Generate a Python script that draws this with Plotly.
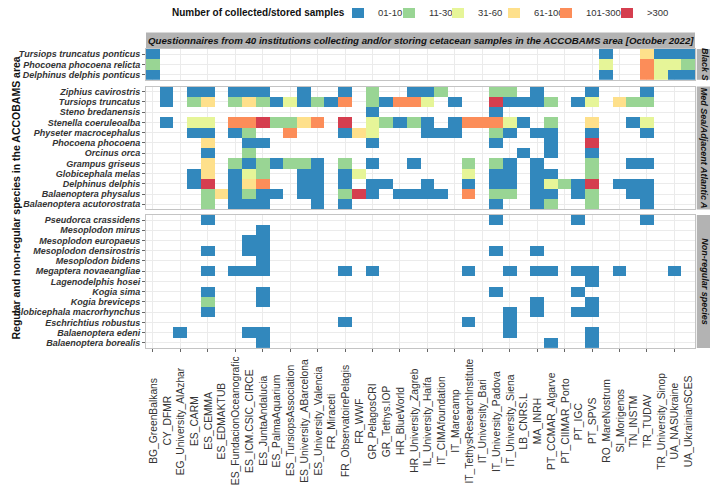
import plotly.graph_objects as go
from plotly.subplots import make_subplots

# ---------------- data ----------------
institutions = [
    "BG_GreenBalkans", "CY_DFMR", "EG_University_AlAzhar", "ES_CARM", "ES_CEMMA",
    "ES_EDMAKTUB", "ES_FundacionOceanografic", "ES_ICM.CSIC_CIRCE", "ES_JuntaAndalucia",
    "ES_PalmaAquarium", "ES_TursiopsAssociation", "ES_University_ABarcelona",
    "ES_University_Valencia", "FR_Miraceti", "FR_ObservatoirePelagis", "FR_WWF",
    "GR_PelagosCRI", "GR_Tethys.IOP", "HR_BlueWorld", "HR_University_Zagreb",
    "IL_University_Haifa", "IT_CIMAfoundation", "IT_Marecamp", "IT_TethysResearchInstitute",
    "IT_University_Bari", "IT_University_Padova", "IT_University_Siena", "LB_CNRS.L",
    "MA_INRH", "PT_CCMAR_Algarve", "PT_CIIMAR_Porto", "PT_IGC", "PT_SPVS",
    "RO_MareNostrum", "SI_Morigenos", "TN_INSTM", "TR_TUDAV", "TR_University_Sinop",
    "UA_NASUkraine", "UA_UkrainianSCES",
]

bins = ["01-10", "11-30", "31-60", "61-100", "101-300", ">300"]
bin_colors = ["#3288BD", "#99D594", "#E6F598", "#FEE08B", "#FC8D59", "#D53E4F"]

panel_labels = ["Black S", "Med Sea/Adjacent Atlantic A", "Non-regular species"]
strip_title = ("Questionnaires from 40 institutions collecting and/or storing "
               "cetacean samples in the ACCOBAMS area [October 2022]")
y_title = "Regular and non-regular species in the ACCOBAMS area"
legend_title = "Number of collected/stored samples"

species_black = ["Tursiops truncatus ponticus", "Phocoena phocoena relicta",
                 "Delphinus delphis ponticus"]
species_med = ["Ziphius cavirostris", "Tursiops truncatus", "Steno bredanensis",
               "Stenella coeruleoalba", "Physeter macrocephalus", "Phocoena phocoena",
               "Orcinus orca", "Grampus griseus", "Globicephala melas",
               "Delphinus delphis", "Balaenoptera physalus", "Balaenoptera acutorostrata"]
species_nonreg = ["Pseudorca crassidens", "Mesoplodon mirus", "Mesoplodon europaeus",
                  "Mesoplodon densirostris", "Mesoplodon bidens", "Megaptera novaeangliae",
                  "Lagenodelphis hosei", "Kogia sima", "Kogia breviceps",
                  "Globicephala macrorhynchus", "Eschrichtius robustus",
                  "Balaenoptera edeni", "Balaenoptera borealis"]

# sample-class code per institution (0 = none, 1..6 = index in bins + 1)
tursiops_ponticus = [1,0,0,0,0,0,0,0,0,0, 0,0,0,0,0,0,0,0,0,0, 0,0,0,0,0,0,0,0,0,0, 0,0,0,1,0,0,4,1,1,1]
phocoena_relicta  = [2,0,0,0,0,0,0,0,0,0, 0,0,0,0,0,0,0,0,0,0, 0,0,0,0,0,0,0,0,0,0, 0,0,0,3,0,0,5,3,3,2]
delphinus_ponticus = [1,0,0,0,0,0,0,0,0,0, 0,0,0,0,0,0,0,0,0,0, 0,0,0,0,0,0,0,0,0,0, 0,0,0,1,0,0,5,3,1,1]

ziphius_cavirostris = [0,1,0,1,1,0,1,1,1,0, 0,1,0,0,1,0,2,0,0,1, 1,2,0,0,0,2,2,0,1,0, 0,0,1,0,0,0,1,0,0,0]
tursiops_truncatus  = [0,1,0,2,4,0,2,4,2,1, 3,1,2,1,5,0,2,1,5,5, 3,0,1,0,0,6,1,1,1,2, 0,1,3,0,4,2,2,0,0,0]
steno_bredanensis   = [0,0,0,0,0,0,0,0,0,0, 0,0,0,0,0,0,1,0,0,0, 0,0,0,0,0,1,0,0,0,0, 0,0,0,0,0,0,0,0,0,0]
stenella_coeruleoalba = [0,1,0,3,3,0,5,5,6,2, 2,4,5,0,6,0,3,2,1,2, 1,0,1,5,5,5,3,1,0,2, 0,0,4,0,0,1,3,0,0,0]
physeter_macrocephalus = [0,0,0,1,1,0,1,2,0,0, 5,0,0,0,1,4,3,0,0,0, 1,1,1,0,0,2,1,0,1,1, 0,0,1,0,0,0,1,0,0,0]
phocoena_phocoena   = [0,0,0,0,4,0,0,1,1,0, 0,0,0,0,0,0,1,0,0,0, 0,0,0,0,0,1,0,0,0,1, 0,0,6,0,0,0,0,0,0,0]
orcinus_orca        = [0,0,0,0,1,0,0,2,0,0, 0,0,0,0,0,0,0,0,0,0, 0,0,0,0,0,0,0,1,0,1, 0,0,1,0,0,0,0,0,0,0]
grampus_griseus     = [0,0,0,0,4,0,2,1,2,1, 2,2,1,0,2,0,1,0,0,1, 0,0,0,2,0,2,1,0,1,0, 0,0,2,0,0,1,1,0,0,0]
globicephala_melas  = [0,0,0,1,4,0,1,3,2,0, 0,1,1,0,1,3,0,0,0,0, 0,0,0,3,0,1,1,0,1,1, 0,0,2,0,0,0,0,0,0,0]
delphinus_delphis   = [0,0,0,1,6,0,1,4,5,0, 0,1,1,0,1,0,1,1,0,0, 1,0,0,1,0,1,1,0,1,3, 2,1,6,0,1,1,1,0,0,0]
balaenoptera_physalus = [0,0,0,0,2,4,1,2,1,1, 0,1,1,0,2,6,1,0,1,1, 1,1,0,5,0,2,2,0,1,1, 0,1,2,0,0,1,1,0,0,0]
balaenoptera_acutorostrata = [0,0,0,0,2,0,1,1,1,0, 0,0,1,0,1,0,0,0,0,0, 0,0,0,0,0,1,0,0,1,2, 0,0,2,0,0,0,1,0,0,0]

pseudorca_crassidens = [0,0,0,0,1,0,0,0,0,0, 0,0,0,0,0,0,0,0,0,0, 0,0,0,0,0,1,0,0,0,0, 0,1,0,0,0,0,1,0,0,0]
mesoplodon_mirus     = [0,0,0,0,0,0,0,0,1,0, 0,0,0,0,0,0,0,0,0,0, 0,0,0,0,0,0,0,0,0,0, 0,0,0,0,0,0,0,0,0,0]
mesoplodon_europaeus = [0,0,0,0,0,0,0,1,1,0, 0,0,0,0,0,0,0,0,0,0, 0,0,0,0,0,0,0,0,0,0, 0,0,0,0,0,0,0,0,0,0]
mesoplodon_densirostris = [0,0,0,0,1,0,0,1,1,0, 0,0,0,0,0,0,0,0,0,0, 0,0,0,0,0,1,0,0,1,0, 0,0,0,0,0,0,0,0,0,0]
mesoplodon_bidens    = [0,0,0,0,0,0,0,0,1,0, 0,0,0,0,0,0,0,0,0,0, 0,0,0,0,0,0,0,0,0,0, 0,0,0,0,0,0,0,0,0,0]
megaptera_novaeangliae = [0,0,0,0,1,0,1,1,1,0, 0,0,0,0,1,0,1,0,0,0, 0,0,0,1,0,0,1,0,1,1, 0,1,1,0,1,0,0,0,1,0]
lagenodelphis_hosei  = [0,0,0,0,0,0,0,0,0,0, 0,0,0,0,0,0,0,0,0,0, 0,0,0,0,0,0,0,0,0,0, 0,0,1,0,0,0,0,0,0,0]
kogia_sima           = [0,0,0,0,1,0,0,0,1,0, 0,0,0,0,0,0,0,0,0,0, 0,0,0,0,0,1,0,0,0,0, 0,1,0,0,0,0,0,0,0,0]
kogia_breviceps      = [0,0,0,0,2,0,0,0,1,0, 0,0,0,0,0,0,0,0,0,0, 0,0,0,0,0,0,0,0,1,0, 0,0,1,0,0,0,0,0,0,0]
globicephala_macrorhynchus = [0,0,0,0,1,0,0,0,0,0, 0,0,0,0,0,0,0,0,0,0, 0,0,0,0,0,0,1,0,1,0, 0,1,1,0,0,0,0,0,0,0]
eschrichtius_robustus = [0,0,0,0,0,0,0,0,0,0, 0,0,0,0,1,0,0,0,0,0, 0,0,0,1,0,0,1,0,0,0, 0,0,0,0,0,0,0,0,0,0]
balaenoptera_edeni   = [0,0,1,0,0,0,0,1,1,0, 0,0,0,0,0,0,0,0,0,0, 0,0,0,0,0,0,1,0,0,0, 0,0,1,0,0,0,0,0,0,0]
balaenoptera_borealis = [0,0,0,0,0,0,0,0,1,0, 0,0,0,0,0,0,0,0,0,0, 0,0,0,0,0,0,0,0,0,1, 0,0,1,0,0,0,0,0,0,0]

rows_black = [tursiops_ponticus, phocoena_relicta, delphinus_ponticus]
rows_med = [ziphius_cavirostris, tursiops_truncatus, steno_bredanensis, stenella_coeruleoalba,
            physeter_macrocephalus, phocoena_phocoena, orcinus_orca, grampus_griseus,
            globicephala_melas, delphinus_delphis, balaenoptera_physalus,
            balaenoptera_acutorostrata]
rows_nonreg = [pseudorca_crassidens, mesoplodon_mirus, mesoplodon_europaeus,
               mesoplodon_densirostris, mesoplodon_bidens, megaptera_novaeangliae,
               lagenodelphis_hosei, kogia_sima, kogia_breviceps, globicephala_macrorhynchus,
               eschrichtius_robustus, balaenoptera_edeni, balaenoptera_borealis]

panels = [(species_black, rows_black), (species_med, rows_med), (species_nonreg, rows_nonreg)]

# ---------------- figure ----------------
OFF = 8                      # page body margin of the html page
W, H = 718 - OFF, 503 - OFF
M_L, M_R, M_T, M_B = 146 - OFF, 23, 49 - OFF, 155
PH = H - M_T - M_B
PW = W - M_L - M_R

def py(px):  # window pixel y -> paper y
    return 1 - (px - OFF - M_T) / PH

def pxx(px):  # window pixel x -> paper x
    return (px - OFF - M_L) / PW

domains = [(py(79.8), 1.0), (py(209.4), py(86.6)), (0.0, py(214.9))]

FONT = "Liberation Sans, Arial, sans-serif"
TXT = "#333333"

colorscale = []
for i, c in enumerate(bin_colors):
    colorscale.append([i / len(bin_colors), c])
    colorscale.append([(i + 1) / len(bin_colors), c])

fig = make_subplots(rows=3, cols=1, shared_xaxes=True, vertical_spacing=0.02)

for r, (species, rows) in enumerate(panels, start=1):
    z = [[(v if v > 0 else None) for v in row] for row in rows]
    fig.add_trace(go.Heatmap(
        x=institutions, y=species, z=z,
        zmin=0.5, zmax=len(bins) + 0.5, colorscale=colorscale,
        showscale=False, hoverongaps=False,
    ), row=r, col=1)

# legend entries: one small legend per class so each key sits where the reference has it
key_centers = [360, 411, 460, 516, 568, 629]   # window px of the legend keys
legend_layouts = {}
for i, (name, c) in enumerate(zip(bins, bin_colors)):
    lname = "legend" if i == 0 else "legend%d" % (i + 1)
    fig.add_trace(go.Scatter(x=[None], y=[None], mode="markers", name=name,
                             marker=dict(symbol="square", size=12, color=c),
                             showlegend=True, legend=lname), row=1, col=1)
    legend_layouts[lname] = dict(
        orientation="h", x=pxx(key_centers[i] - 22), xanchor="left",
        y=py(12), yanchor="middle",
        font=dict(family=FONT, size=9.5, color=TXT),
        itemwidth=30, bgcolor="rgba(0,0,0,0)", borderwidth=0)

for r, (species, rows) in enumerate(panels, start=1):
    sfx = "" if r == 1 else str(r)
    fig.layout["xaxis" + sfx].update(
        type="category", categoryorder="array", categoryarray=institutions,
        range=[-0.5, len(institutions) - 0.5], automargin=False,
        showgrid=True, gridcolor="#EBEBEB", gridwidth=1, zeroline=False,
        showline=True, mirror=True, linecolor="#C4C4C4", linewidth=1,
        ticks="outside" if r == 3 else "", ticklen=3, tickcolor="#666666",
        showticklabels=False,
    )
    fig.layout["yaxis" + sfx].update(
        domain=list(domains[r - 1]), type="category",
        categoryorder="array", categoryarray=species,
        tickmode="array", tickvals=species, ticktext=species,
        range=[len(species) - 0.5, -0.5], automargin=False,
        showgrid=True, gridcolor="#EBEBEB", gridwidth=1, zeroline=False,
        showline=True, mirror=True, linecolor="#C4C4C4", linewidth=1,
        ticks="outside", ticklen=3, tickcolor="#666666",
        tickfont=dict(family=FONT, size=9, color=TXT, weight="bold", style="italic"),
    )

shapes = []
annotations = []
# top strip
shapes.append(dict(type="rect", xref="paper", yref="paper", x0=0, x1=1,
                   y0=1.0, y1=1 + 16.5 / PH, fillcolor="#B3B3B3", line=dict(width=0),
                   layer="below"))
annotations.append(dict(xref="paper", yref="paper", x=0.5, y=1 + 8.25 / PH,
                        text="<b><i>" + strip_title + "</i></b>", showarrow=False,
                        xanchor="center", yanchor="middle",
                        font=dict(family=FONT, size=9.7, color="#111111")))
# right strips
sx0 = pxx(696.8)
sx1 = pxx(711.8)
for (d0, d1), lab in zip(domains, panel_labels):
    shapes.append(dict(type="rect", xref="paper", yref="paper", x0=sx0, x1=sx1,
                       y0=d0, y1=d1, fillcolor="#B3B3B3", line=dict(width=0)))
    annotations.append(dict(xref="paper", yref="paper", x=(sx0 + sx1) / 2,
                            y=(d0 + d1) / 2, text="<b><i>" + lab + "</i></b>",
                            textangle=90, showarrow=False, xanchor="center",
                            yanchor="middle",
                            font=dict(family=FONT, size=9, color="#111111")))
# x category labels (centred, rotated)
for inst in institutions:
    annotations.append(dict(xref="x3", yref="paper", x=inst, y=py(421),
                            text=inst, textangle=-90, showarrow=False,
                            xanchor="center", yanchor="middle",
                            font=dict(family=FONT, size=10.3, color=TXT)))
# y title
annotations.append(dict(xref="paper", yref="paper", x=pxx(15), y=0.5,
                        text="<b>" + y_title + "</b>", textangle=-90, showarrow=False,
                        xanchor="center", yanchor="middle",
                        font=dict(family=FONT, size=10.5, color="#111111")))
# legend title
annotations.append(dict(xref="paper", yref="paper", x=pxx(347), y=py(12),
                        text="<b>" + legend_title + "</b>", showarrow=False,
                        xanchor="right", yanchor="middle",
                        font=dict(family=FONT, size=10, color="#111111")))

fig.update_layout(
    width=W, height=H,
    margin=dict(l=M_L, r=M_R, t=M_T, b=M_B, pad=0, autoexpand=False),
    paper_bgcolor="white", plot_bgcolor="white",
    font=dict(family=FONT, color=TXT),
    shapes=shapes, annotations=annotations,
    showlegend=True,
    **legend_layouts,
)

fig.write_html("out.html")
